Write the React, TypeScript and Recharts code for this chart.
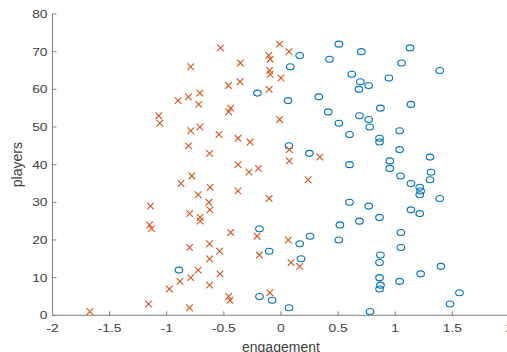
import React from 'react';
import { ScatterChart, Scatter, XAxis, YAxis } from 'recharts';

// engagement per player, two groups (players numbered 1..72)
const blueX = [
  0.78, 0.07, 1.48, -0.077, -0.188, 1.563, 0.863, 0.871, 1.039, 0.863,
  1.223, -0.893, 1.4, 0.863, 0.176, 0.871, -0.103, 1.05, 0.164, 0.507,
  0.255, 1.05, -0.188, 0.516, 0.687, 0.863, 1.215, 1.138, 0.768, 0.6,
  1.39, 1.215, 1.223, 1.215, 1.138, 1.305, 1.047, 1.314, 0.953, 0.6,
  0.953, 1.305, 0.249, 1.039, 0.07, 0.863, 0.863, 0.6, 1.039, 0.777,
  0.507, 0.768, 0.687, 0.414, 0.871, 1.138, 0.062, 0.331, -0.206, 0.683,
  0.768, 0.695, 0.945, 0.62, 1.39, 0.082, 1.056, 0.425, 0.164, 0.704,
  1.13, 0.507,
];
const orangeX = [
  -1.673, -0.8, -1.16, -0.446, -0.458, -0.097, -0.977, -0.625, -0.884, -0.79,
  -0.534, -0.725, 0.164, 0.088, -0.625, -0.188, -0.537, -0.8, -0.625, 0.064,
  -0.209, -0.44, -1.133, -1.15, -0.708, -0.708, -0.8, -0.622, -1.142, -0.631,
  -0.103, -0.725, -0.376, -0.62, -0.875, 0.238, -0.78, -0.28, -0.197, -0.376,
  0.073, 0.34, -0.625, 0.073, -0.81, -0.27, -0.376, -0.543, -0.79, -0.71,
  -1.06, -0.012, -1.07, -0.458, -0.44, -0.72, -0.9, -0.81, -0.71, -0.103,
  -0.46, -0.358, 0.0, -0.094, -0.1, -0.79, -0.355, -0.094, -0.106, 0.07,
  -0.53, -0.012,
];
const players = Array.from({ length: 72 }, (_, i) => i + 1);

const xTicks = [-2, -1.5, -1, -0.5, 0, 0.5, 1, 1.5, 2];
const yTicks = [0, 10, 20, 30, 40, 50, 60, 70, 80];

const blueData = players.map((p, i) => ({ x: blueX[i], y: p }));
const orangeData = players.map((p, i) => ({ x: orangeX[i], y: p }));

const BLUE = '#0072BD';
const ORANGE = '#D95319';
const AXIS = '#808080';
const TEXT = '#404040';
const FONT = 'Liberation Sans, Arial, sans-serif';

const Circle = (props: any) => (
  <ellipse cx={props.cx} cy={props.cy} rx={3.8} ry={3} fill="none" stroke={BLUE} strokeWidth={1.1} />
);

const Cross = (props: any) => {
  const { cx, cy } = props;
  const d = 3.3;
  return (
    <path
      d={`M${cx - d},${cy - d}L${cx + d},${cy + d}M${cx - d},${cy + d}L${cx + d},${cy - d}`}
      stroke={ORANGE}
      strokeWidth={1.1}
    />
  );
};

const XTick = (props: any) => {
  const { x, y, payload } = props;
  return (
    <g>
      <line x1={x} y1={y} x2={x} y2={y - 4} stroke={AXIS} />
      <text
        transform={`translate(${x},${y + 17}) scale(1.2,1)`}
        textAnchor="middle"
        fontSize={11.5}
        fontFamily={FONT}
        fill={TEXT}
      >
        {payload.value}
      </text>
    </g>
  );
};

const YTick = (props: any) => {
  const { x, y, payload } = props;
  return (
    <g>
      <line x1={x} y1={y} x2={x + 4} y2={y} stroke={AXIS} />
      <text
        transform={`translate(${x - 5},${y + 4}) scale(1.2,1)`}
        textAnchor="end"
        fontSize={11.5}
        fontFamily={FONT}
        fill={TEXT}
      >
        {payload.value}
      </text>
    </g>
  );
};

export default function App() {
  return (
    <div style={{ position: 'absolute', left: 0, top: 0, width: 507, height: 352, overflow: 'hidden', background: '#fff' }}>
      <ScatterChart width={520} height={352} margin={{ top: 14, right: 10.6, bottom: 0, left: 0 }}>
        <XAxis
          type="number"
          dataKey="x"
          domain={[-2, 2]}
          ticks={xTicks}
          allowDataOverflow
          height={36.7}
          tickSize={0}
          tickMargin={0}
          tickLine={false}
          axisLine={{ stroke: AXIS }}
          tick={<XTick />}
          label={{
            value: 'engagement',
            position: 'insideBottom',
            offset: 0,
            style: { fontSize: 14, fontFamily: FONT, fill: TEXT },
          }}
        />
        <YAxis
          type="number"
          dataKey="y"
          domain={[0, 80]}
          ticks={yTicks}
          allowDataOverflow
          width={52.5}
          tickSize={0}
          tickMargin={0}
          tickLine={false}
          axisLine={{ stroke: AXIS }}
          tick={<YTick />}
          label={{
            value: 'players',
            angle: -90,
            position: 'insideLeft',
            offset: 17,
            style: { fontSize: 14, fontFamily: FONT, fill: TEXT, textAnchor: 'middle' },
          }}
        />
        <Scatter data={blueData} shape={<Circle />} isAnimationActive={false} />
        <Scatter data={orangeData} shape={<Cross />} isAnimationActive={false} />
      </ScatterChart>
    </div>
  );
}
